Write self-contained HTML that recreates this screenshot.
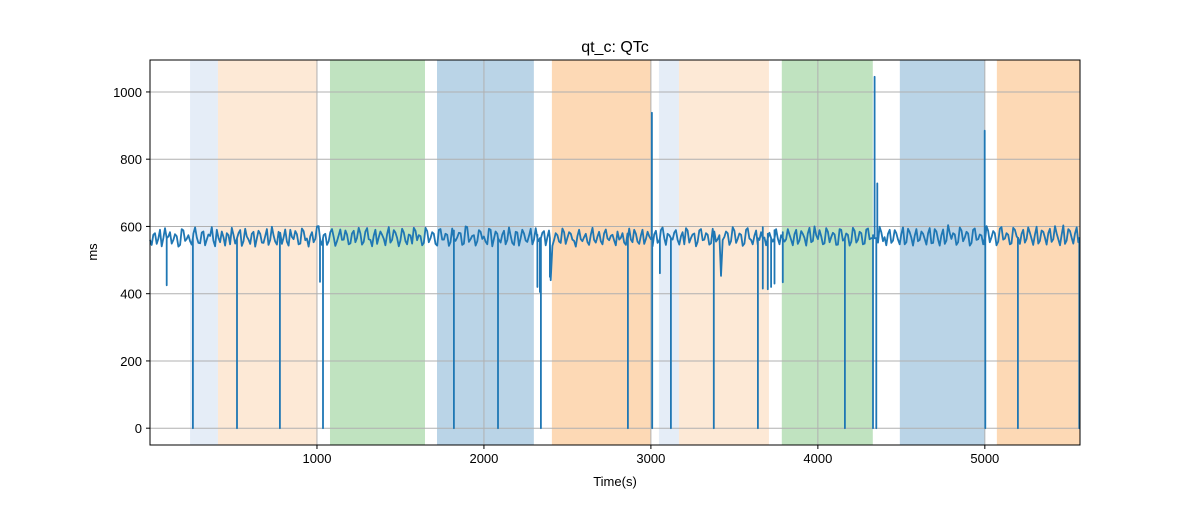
<!DOCTYPE html>
<html><head><meta charset="utf-8"><style>
body{margin:0;background:#fff}
svg text{font-family:"Liberation Sans","DejaVu Sans",sans-serif;fill:#000}
</style></head><body>
<svg id="chart" width="1200" height="500">
<rect width="1200" height="500" fill="#fff"/>
<g id="bands"></g><g id="grid"></g><g id="series"></g><g id="axes"></g>
<text x="615" y="52" font-size="16" text-anchor="middle">qt_c: QTc</text>
<text x="615" y="486" font-size="13" text-anchor="middle">Time(s)</text>
<text x="97" y="252" font-size="13" text-anchor="middle" transform="rotate(-90 97 252)">ms</text>
</svg>
<script>
const xTicks=[1000,2000,3000,4000,5000];
const yTicks=[0,200,400,600,800,1000];
const bandStarts=[240,407,1078,1719,2407,3048,3168,3784,4491,5072];
const bandEnds=[407,1000,1647,2299,2999,3168,3707,4329,5000,5569];
const bandColors=["#e5edf7","#fde9d6","#c0e3c0","#bad4e7","#fdd9b5","#e5edf7","#fde9d6","#c0e3c0","#bad4e7","#fdd9b5"];
const baseStep=20;
const baseValues=[560,575,548,590,566,552,583,560,571,545,588,563,556,579,567,550,585,561,572,558,
590,553,568,580,547,575,562,589,556,570,548,584,565,578,551,592,560,573,546,581,
567,555,590,562,577,549,586,564,571,553,600,558,574,545,583,569,556,591,561,576,
550,587,566,579,554,595,560,572,548,585,563,577,552,589,566,558,582,547,573,596,
559,571,551,586,565,578,543,592,561,575,553,588,567,580,549,598,562,574,556,584,
570,547,590,563,578,552,587,560,573,545,582,566,579,554,593,561,575,550,586,568,
440,560,574,551,583,566,578,557,571,562,568,553,575,560,570,556,579,564,572,558,
585,566,552,579,561,590,555,573,548,584,562,576,551,589,565,578,553,582,560,571,
547,588,566,579,554,592,561,575,550,585,562,453,569,580,556,587,563,575,549,595,
560,572,545,583,567,578,552,589,564,574,555,592,561,577,548,586,566,579,553,600,
562,571,550,584,568,576,546,590,563,575,555,587,560,580,549,594,565,573,552,583,
568,578,551,589,561,577,547,593,566,572,556,585,563,580,550,592,561,574,548,604,
563,576,553,588,567,579,551,594,562,573,546,586,568,580,555,598,564,575,550,590,
566,578,552,597,563,575,549,588,567,580,554,601,562,574,548,592,566,579,553,590];
const midValues=[545,580,563,541,595,570,549,577,540,592,557,574,546,597,551,582,544,576,598,541,
566,585,543,574,596,549,580,542,593,561,578,540,587,552,571,545,599,555,584,548,
591,543,569,586,547,594,559,540,583,563,601,545,578,556,592,542,574,560,588,547,
579,553,596,546,585,562,541,590,567,575,544,598,560,582,541,593,556,576,549,587,
574,544,596,553,583,548,590,561,578,542,594,557,581,545,600,554,572,543,589,563,
555,593,541,585,560,576,547,597,551,584,543,590,558,572,547,595,556,581,544,588,
542,580,555,594,548,583,561,540,590,556,578,545,596,552,584,547,591,559,575,544,
561,580,545,594,553,578,548,590,563,571,541,587,558,597,545,574,561,589,546,583,
595,552,576,541,588,559,580,546,593,555,574,560,585,545,598,551,579,542,590,564,
547,588,560,598,544,581,555,592,547,583,562,575,544,590,559,578,543,596,557,574,
589,547,595,553,581,545,592,558,579,543,596,552,584,547,591,562,574,545,599,556,
544,590,558,580,547,597,553,583,543,592,560,578,546,595,551,585,543,591,558,580,
580,545,597,556,584,543,590,560,576,547,601,553,586,544,594,561,580,547,596,571,
548,590,563,581,545,599,557,584,546,593,562,580,544,603,558,586,549,597,565,560];
const spikeTimes=[100,257,521,778,1018,1036,1820,2084,2320,2335,2341,2395,2862,3006,3008,3054,3120,3377,3641,3670,3700,3720,3740,3790,4162,4330,4340,4350,4356,4999,5003,5198,5566];
const spikeValues=[425,0,0,0,435,0,0,0,420,405,0,450,0,938,0,461,0,0,0,415,413,420,430,434,0,0,1045,0,728,885,0,0,0];
const X0=150,X1=1080,Y0=445,Y1=60,xmin=0,xmax=5570,ymin=-50,ymax=1095;
const sx=v=>X0+(v-xmin)/(xmax-xmin)*(X1-X0);
const sy=v=>Y0-(v-ymin)/(ymax-ymin)*(Y0-Y1);
const NS="http://www.w3.org/2000/svg";
function mk(tag,attrs,parent){const e=document.createElementNS(NS,tag);for(const k in attrs)e.setAttribute(k,attrs[k]);document.getElementById(parent).appendChild(e);return e;}
bandStarts.forEach((s,i)=>{
const r=mk("rect",{x:sx(s),y:Y1,width:sx(bandEnds[i])-sx(s),height:Y0-Y1,fill:bandColors[i]},"bands");


});
xTicks.forEach(t=>{
const l=mk("line",{x1:sx(t),x2:sx(t),y1:Y1,y2:Y0,stroke:"#b0b0b0","stroke-width":1},"grid");


mk("line",{x1:sx(t),x2:sx(t),y1:Y0,y2:Y0+4,stroke:"#000"},"axes");
const tx=mk("text",{x:sx(t),y:Y0+18,"font-size":13,"text-anchor":"middle"},"axes");tx.textContent=t;


});
yTicks.forEach(t=>{
const l=mk("line",{x1:X0,x2:X1,y1:sy(t),y2:sy(t),stroke:"#b0b0b0","stroke-width":1},"grid");


mk("line",{x1:X0-4,x2:X0,y1:sy(t),y2:sy(t),stroke:"#000"},"axes");
const tx=mk("text",{x:X0-8,y:sy(t)+5,"font-size":13,"text-anchor":"end"},"axes");tx.textContent=t;


});
const pts=[];
baseValues.forEach((v,i)=>pts.push([i*baseStep,v,0]));
midValues.forEach((v,i)=>pts.push([i*baseStep+baseStep/2,v,0]));
spikeTimes.forEach((t,i)=>{pts.push([t-0.01,565,1]);pts.push([t,spikeValues[i],1]);pts.push([t+0.01,565,1]);});
pts.sort((a,b)=>a[0]-b[0]);
const d=pts.filter(p=>p[0]<=5570).map((p,i)=>(i?"L":"M")+sx(p[0]).toFixed(1)+","+sy(p[1]).toFixed(1)).join("");
const path=mk("path",{d:d,fill:"none",stroke:"#1f77b4","stroke-width":1.8,"stroke-linejoin":"round"},"series");


const frame=mk("rect",{x:X0,y:Y1,width:X1-X0,height:Y0-Y1,fill:"none",stroke:"#000","stroke-width":1},"axes");


</script>
</body></html>
